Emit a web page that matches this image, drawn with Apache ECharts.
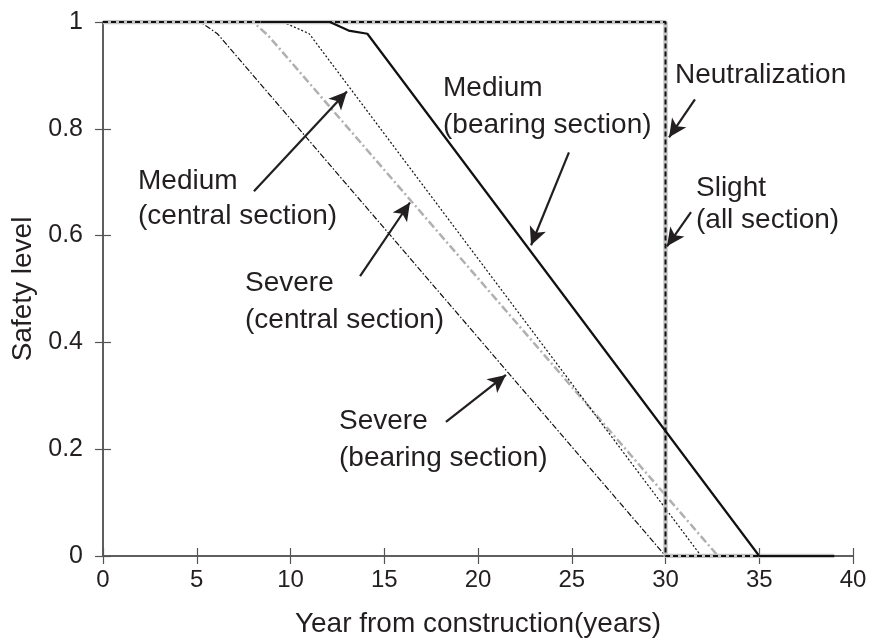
<!DOCTYPE html>
<html>
<head>
<meta charset="utf-8">
<script src="https://cdn.jsdelivr.net/npm/echarts@6/dist/echarts.min.js"></script>
<style>
  html, body { margin: 0; padding: 0; background: #fff; }
  #chart { width: 870px; height: 639px; }
</style>
</head>
<body>
<div id="chart"></div>
<script>
// values: years and safety level per curve
const sevBearX = [0, 5.2, 6.1, 30, 39];
const sevBearY = [1, 1, 0.978, 0, 0];
const sevCentX = [0, 8.0, 8.8, 32.8, 39];
const sevCentY = [1, 1, 0.975, 0, 0];
const medCentX = [0, 9.6, 11.0, 31.9, 39];
const medCentY = [1, 1, 0.978, 0, 0];
const medBearX = [8.4, 12.1, 13.1, 14.1, 35, 39];
const medBearY = [1, 1, 0.984, 0.978, 0, 0];
const slightX = [0, 30, 30, 39];
const slightY = [1, 1, 0, 0];
const neutralX = [0, 30, 30, 39];
const neutralY = [1, 1, 0, 0];

const xTicks = [0, 5, 10, 15, 20, 25, 30, 35, 40];
const yTicks = [0, 0.2, 0.4, 0.6, 0.8, 1];

// arrows, [from, to] in data units
const arrows = [
  [[8.05, 0.683], [13.01, 0.870]],
  [[13.71, 0.524], [16.37, 0.662]],
  [[24.85, 0.756], [22.83, 0.582]],
  [[31.57, 0.855], [30.19, 0.784]],
  [[31.36, 0.644], [30.08, 0.580]],
  [[18.29, 0.251], [21.49, 0.339]]
];

const ink = '#231f20';
const font = 'Liberation Sans, Arial, sans-serif';

function pairs(xs, ys) {
  return xs.map(function (x, i) { return [x, ys[i]]; });
}

// annotation text lines: [text, left px, center y px]
const notes = [
  ['Medium', 138, 183], ['(central section)', 138, 218],
  ['Severe', 245, 285], ['(central section)', 245, 322],
  ['Medium', 443, 90], ['(bearing section)', 443, 127],
  ['Neutralization', 675, 77],
  ['Slight', 696, 190], ['(all section)', 696, 222],
  ['Severe', 339, 423], ['(bearing section)', 339, 460]
];

const chart = echarts.init(document.getElementById('chart'));

const frameAxis = {
  min: 0,
  axisLine: { show: true, lineStyle: { color: '#555', width: 1.5 } },
  axisTick: { show: true, inside: true, length: 8, lineStyle: { color: '#555', width: 1.2 } },
  splitLine: { show: false }
};

chart.setOption({
  animation: false,
  backgroundColor: '#fff',
  textStyle: { fontFamily: font, color: ink },
  grid: { left: 103, right: 17, top: 22, bottom: 83, containLabel: false, outerBoundsMode: 'none' },
  xAxis: [
    Object.assign({}, frameAxis, {
      type: 'value', max: 40, interval: 5, position: 'bottom',
      name: 'Year from construction(years)', nameLocation: 'middle', nameGap: 54,
      nameTextStyle: { fontSize: 28, color: ink, fontFamily: font },
      axisLabel: { fontSize: 24, color: ink, margin: 12, fontFamily: font }
    }),
    Object.assign({}, frameAxis, {
      type: 'value', max: 40, interval: 5, position: 'top',
      axisLabel: { show: false }
    })
  ],
  yAxis: [
    Object.assign({}, frameAxis, {
      type: 'value', max: 1, interval: 0.2, position: 'left',
      name: 'Safety level', nameLocation: 'middle', nameGap: 66, nameRotate: 90,
      nameTextStyle: { fontSize: 28, color: ink, fontFamily: font },
      axisLabel: { fontSize: 25, color: ink, margin: 20, fontFamily: font }
    }),
    Object.assign({}, frameAxis, {
      type: 'value', max: 1, interval: 0.2, position: 'right',
      axisLabel: { show: false }
    })
  ],
  series: [
    {
      name: 'Severe (central section)', type: 'line', showSymbol: false,
      data: pairs(sevCentX, sevCentY),
      lineStyle: { color: '#b0b0b0', width: 2.5, type: [8, 3, 2, 3] }
    },
    {
      name: 'Severe (bearing section)', type: 'line', showSymbol: false,
      data: pairs(sevBearX, sevBearY),
      lineStyle: { color: '#111', width: 1.2, type: [6, 2, 1.5, 2] }
    },
    {
      name: 'Medium (central section)', type: 'line', showSymbol: false,
      data: pairs(medCentX, medCentY),
      lineStyle: { color: '#111', width: 1.2, type: [2, 2] }
    },
    {
      name: 'Slight (all section)', type: 'line', showSymbol: false,
      data: pairs(slightX, slightY),
      lineStyle: { color: '#c4c4c4', width: 4.5 }
    },
    {
      name: 'Neutralization', type: 'line', showSymbol: false,
      data: pairs(neutralX, neutralY),
      lineStyle: { color: '#111', width: 2, type: [5, 3] }
    },
    {
      name: 'Medium (bearing section)', type: 'line', showSymbol: false,
      data: pairs(medBearX, medBearY),
      lineStyle: { color: '#111', width: 2.2 },
      markLine: {
        silent: true,
        symbol: ['none', 'arrow'],
        symbolSize: [13, 18],
        label: { show: false },
        lineStyle: { color: ink, width: 2.2, type: 'solid' },
        data: arrows.map(function (a) {
          return [{ coord: a[0] }, { coord: a[1] }];
        })
      }
    }
  ],
  graphic: notes.map(function (n) {
    return {
      type: 'text', left: n[1], top: n[2] - 16, z: 100,
      style: { text: n[0], font: '28px ' + font, fill: ink }
    };
  })
});
</script>
</body>
</html>
